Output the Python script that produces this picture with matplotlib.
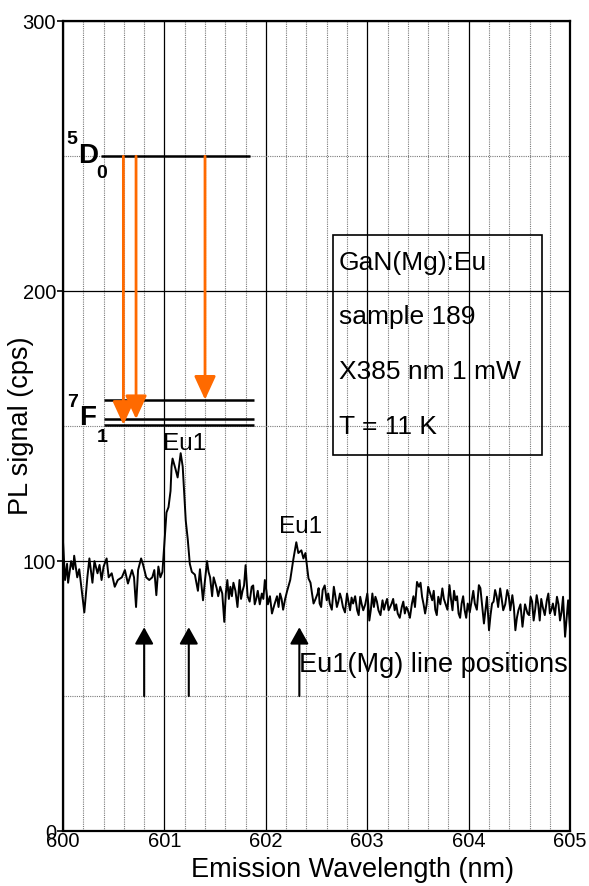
import numpy as np
import matplotlib.pyplot as plt
from matplotlib.patches import Rectangle
from matplotlib.ticker import MultipleLocator

plt.rcParams['font.family'] = ['Liberation Sans', 'DejaVu Sans']

# PL spectrum (nm, cps)
wavelength = [
    600.00, 600.02, 600.04, 600.05, 600.08, 600.10, 600.11, 600.14, 600.16, 600.18,
    600.21, 600.24, 600.26, 600.29, 600.31, 600.34, 600.36, 600.38, 600.40, 600.43,
    600.45, 600.48, 600.51, 600.54, 600.58, 600.61, 600.64, 600.68, 600.70, 600.72,
    600.74, 600.77, 600.79, 600.82, 600.85, 600.88, 600.90, 600.92, 600.94, 600.96,
    600.98, 601.02, 601.04, 601.06, 601.07, 601.08, 601.11, 601.13, 601.16, 601.18,
    601.21, 601.23, 601.25, 601.27, 601.30, 601.33, 601.35, 601.38, 601.40, 601.42,
    601.435, 601.45, 601.47, 601.485, 601.50, 601.515, 601.53, 601.55, 601.57, 601.59,
    601.605, 601.62, 601.635, 601.65, 601.665, 601.68, 601.70, 601.72, 601.74, 601.755,
    601.77, 601.785, 601.80, 601.82, 601.84, 601.86, 601.875, 601.89, 601.905, 601.92,
    601.94, 601.96, 601.975, 601.99, 602.005, 602.02, 602.04, 602.06, 602.085, 602.11,
    602.125, 602.14, 602.155, 602.17, 602.19, 602.21, 602.24, 602.27, 602.30, 602.32,
    602.35, 602.37, 602.39, 602.42, 602.44, 602.455, 602.47, 602.49, 602.51, 602.52,
    602.53, 602.545, 602.56, 602.58, 602.60, 602.615, 602.63, 602.65, 602.67, 602.685,
    602.70, 602.715, 602.73, 602.745, 602.76, 602.78, 602.80, 602.815, 602.83, 602.845,
    602.86, 602.88, 602.90, 602.915, 602.93, 602.945, 602.96, 602.98, 603.00, 603.01,
    603.02, 603.035, 603.05, 603.065, 603.08, 603.095, 603.11, 603.13, 603.15, 603.165,
    603.18, 603.195, 603.21, 603.225, 603.24, 603.255, 603.27, 603.285, 603.30, 603.32,
    603.34, 603.355, 603.37, 603.385, 603.40, 603.42, 603.44, 603.455, 603.47, 603.49,
    603.51, 603.525, 603.54, 603.555, 603.57, 603.585, 603.60, 603.62, 603.64, 603.655,
    603.67, 603.685, 603.70, 603.72, 603.74, 603.755, 603.77, 603.79, 603.81, 603.825,
    603.84, 603.855, 603.87, 603.885, 603.90, 603.915, 603.93, 603.945, 603.96, 603.975,
    603.99, 604.01, 604.03, 604.045, 604.06, 604.08, 604.10, 604.115, 604.13, 604.15,
    604.165, 604.18, 604.20, 604.215, 604.23, 604.245, 604.26, 604.275, 604.29, 604.31,
    604.325, 604.34, 604.36, 604.38, 604.395, 604.41, 604.43, 604.445, 604.46, 604.475,
    604.49, 604.51, 604.53, 604.555, 604.58, 604.595, 604.61, 604.625, 604.64, 604.655,
    604.67, 604.685, 604.70, 604.715, 604.73, 604.75, 604.77, 604.785, 604.80, 604.815,
    604.83, 604.85, 604.87, 604.885, 604.90, 604.915, 604.93, 604.95, 604.965, 604.98,
    605.00,
]
signal = [
    107, 93, 99, 92, 100, 97, 102, 94, 97, 90.5,
    81, 94, 101, 92, 100, 95.5, 98.6, 93, 98, 101,
    94, 95.5, 90.5, 93, 94, 96.7, 91.7, 96.7, 94, 83,
    96.7, 101, 98.6, 94, 93, 94, 96.7, 87.4, 98, 94,
    96, 118, 120, 126, 135, 138, 134, 131, 140, 135,
    115, 108, 99, 96, 95, 89, 97, 85.5, 93, 100,
    96, 94, 87, 94, 92, 90, 87, 90.5, 88, 77.5,
    88, 93, 86, 90.5, 87, 92, 89, 83, 93, 86,
    89, 91, 98.5, 87, 85, 90.5, 91, 84, 86, 89,
    84, 88, 86, 93, 89, 84, 87, 80.6, 84, 87,
    83, 88, 86, 82, 86, 89, 93, 100.5, 107, 103,
    104, 101, 103, 93.6, 92, 88, 84.3, 86, 88, 90,
    84.3, 83, 89.3, 91, 85.5, 88, 84.3, 82, 90.5, 87,
    83, 85, 88, 86, 83, 81, 88, 85, 81.8, 86.5,
    84.3, 87, 81.8, 80, 86.8, 84, 81.8, 84, 88, 84,
    78, 82, 88, 83, 86.8, 85, 81.8, 80, 85.5, 82,
    84.3, 86, 81.8, 83, 84.3, 86, 81.8, 84, 80.6, 79,
    83, 85, 80.6, 83, 81.8, 79, 84.3, 87, 83, 92.3,
    90.5, 92, 86.8, 84, 80.6, 84, 90.5, 88, 85.5, 89,
    82, 80, 86.8, 84, 89.9, 86, 84.3, 82, 91.1, 86,
    81.8, 89, 85.5, 87, 80.6, 79, 84.3, 87, 81.8, 79,
    84.3, 81, 85.5, 89, 84.3, 82, 91.1, 90, 84.3, 76.9,
    82, 86.8, 74.4, 80, 84.3, 85, 89.3, 87, 83, 89.9,
    86, 81.8, 84, 89.3, 87, 81.8, 87.4, 83, 74.4, 79,
    81.8, 84, 75.7, 84, 80.6, 80, 86.8, 85, 78, 82,
    87.4, 84, 78, 86, 83, 80, 85.5, 88, 80.6, 82,
    84.3, 80, 86.8, 84, 78, 81, 86.8, 72, 79, 85.5,
    74,
]

# energy level scheme (5D0 -> 7F1)
d0_level = 250
d0_span = (600.37, 601.84)
f1_levels = [159.8, 152.6, 150.5]
f1_span = (600.40, 601.88)
transition_x = [600.595, 600.72, 601.40]
transition_end = [150.5, 152.6, 159.8]

# Eu1(Mg) line positions
mg_lines = [600.80, 601.24, 602.33]
mg_base = 50
mg_tip = 75.5

info_lines = ["GaN(Mg):Eu", "sample 189", "X385 nm 1 mW", "T = 11 K"]
info_y = [208, 187.8, 167.4, 147.2]

orange = "#ff6a00"

fig = plt.figure(figsize=(5.89, 8.86), dpi=100)
ax = fig.add_axes([0.107, 0.062, 0.861, 0.914])

ax.set_xlim(600, 605)
ax.set_ylim(0, 300)

# grid: solid majors, dotted minors
ax.xaxis.set_major_locator(MultipleLocator(1))
ax.xaxis.set_minor_locator(MultipleLocator(0.2))
ax.yaxis.set_major_locator(MultipleLocator(100))
ax.yaxis.set_minor_locator(MultipleLocator(50))
ax.grid(True, which="major", color="black", linewidth=0.9, linestyle="-")
ax.grid(True, which="minor", color="#7a7a7a", linewidth=0.8, linestyle=(0, (1, 1)))
ax.set_axisbelow(True)

ax.tick_params(axis="x", which="both", length=0, pad=1, labelsize=14.5)
ax.tick_params(axis="y", which="major", length=4, width=1.2, pad=1, labelsize=14.5, direction="out")
ax.tick_params(axis="y", which="minor", length=0)
for sp in ax.spines.values():
    sp.set_linewidth(1.6)

ax.plot(wavelength, signal, color="black", linewidth=1.4, zorder=3)

# level scheme
ax.hlines(d0_level, *d0_span, color="black", linewidth=1.8, zorder=4)
ax.hlines(f1_levels, *f1_span, color="black", linewidth=1.8, zorder=4)
for x, y_end in zip(transition_x, transition_end):
    ax.annotate("", xy=(x, y_end), xytext=(x, d0_level),
                arrowprops=dict(arrowstyle="-|>,head_length=0.48,head_width=0.22",
                                mutation_scale=30, color=orange, lw=2.0,
                                shrinkA=0, shrinkB=0), zorder=5)

ax.text(600.15, 247.4, "D", fontsize=20, fontweight="bold", ha="left", va="baseline")
ax.text(600.03, 254.4, "5", fontsize=14, fontweight="bold", ha="left", va="baseline")
ax.text(600.33, 242.0, "0", fontsize=14, fontweight="bold", ha="left", va="baseline")
ax.text(600.16, 150.4, "F", fontsize=20, fontweight="bold", ha="left", va="baseline")
ax.text(600.04, 157, "7", fontsize=14, fontweight="bold", ha="left", va="baseline")
ax.text(600.33, 144.2, "1", fontsize=14, fontweight="bold", ha="left", va="baseline")

# peak labels
ax.text(601.20, 141, "Eu1", fontsize=17.5, ha="center", va="baseline")
ax.text(602.34, 110.4, "Eu1", fontsize=17.5, ha="center", va="baseline")

# Eu1(Mg) markers
for x in mg_lines:
    ax.annotate("", xy=(x, mg_tip), xytext=(x, mg_base),
                arrowprops=dict(arrowstyle="-|>,head_length=0.34,head_width=0.19",
                                mutation_scale=30, color="black", lw=1.5,
                                shrinkA=0, shrinkB=0), zorder=5)
ax.text(602.33, 58.9, "Eu1(Mg) line positions", fontsize=19.5, ha="left", va="baseline")

# sample info box
ax.add_patch(Rectangle((602.66, 139.3), 2.06, 81.4, fill=False,
                       edgecolor="black", linewidth=1.2, zorder=4))
for txt, y in zip(info_lines, info_y):
    ax.text(602.72, y, txt, fontsize=19, ha="left", va="baseline")

ax.set_xlabel("Emission Wavelength (nm)", fontsize=19.5)
ax.set_ylabel("PL signal (cps)", fontsize=19.5)
ax.xaxis.set_label_coords(0.57, -0.032)
ax.yaxis.set_label_coords(-0.058, 0.5)

fig.savefig("out.png", dpi=100)
